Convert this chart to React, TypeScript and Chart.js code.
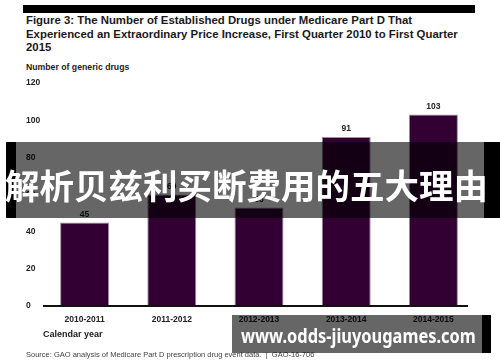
import React, { useEffect, useRef } from "react";
import { Chart, registerables } from "chart.js";

Chart.register(...registerables);

const categories = ["2010-2011", "2011-2012", "2012-2013", "2013-2014", "2014-2015"];
const drugCounts = [45, 60, 53, 91, 103];
const yMin = 0;
const yMax = 120;
const yStep = 20;

const titleLines = [
  "Figure 3: The Number of Established Drugs under Medicare Part D That",
  "Experienced an Extraordinary Price Increase, First Quarter 2010 to First Quarter",
  "2015",
];
const yAxisTitle = "Number of generic drugs";
const xAxisTitle = "Calendar year";
const sourceText = "Source: GAO analysis of Medicare Part D prescription drug event data.  |  GAO-16-706";
const bannerText = "解析贝兹利买断费用的五大理由";
const watermarkText = "www.odds-jiuyougames.com";

const FONT = "'Liberation Sans', Arial, sans-serif";

const overlayPlugin = {
  id: "overlayPlugin",
  afterDatasetsDraw(chart: any) {
    const ctx = chart.ctx;
    const { left, right, bottom } = chart.chartArea;
    ctx.save();
    ctx.strokeStyle = "#111";
    ctx.lineWidth = 2;
    ctx.beginPath();
    ctx.moveTo(left + 2, bottom);
    ctx.lineTo(right - 9, bottom);
    ctx.stroke();

    const meta = chart.getDatasetMeta(0);
    ctx.fillStyle = "#222";
    ctx.font = `bold 8.5px ${FONT}`;
    ctx.textAlign = "center";
    ctx.textBaseline = "middle";
    meta.data.forEach((bar: any, i: number) => {
      ctx.fillText(String(chart.data.datasets[0].data[i]), bar.x, bar.y - 8);
    });
    ctx.restore();
  },
};

export default function App() {
  const canvasRef = useRef<HTMLCanvasElement | null>(null);

  useEffect(() => {
    if (!canvasRef.current) return;
    const chart = new Chart(canvasRef.current, {
      type: "bar",
      data: {
        labels: categories,
        datasets: [
          {
            data: drugCounts,
            backgroundColor: "#330033",
            borderColor: "#9a909a",
            borderWidth: 1,
            borderSkipped: "bottom",
            barPercentage: 0.562,
            categoryPercentage: 1,
          },
        ],
      },
      plugins: [overlayPlugin],
      options: {
        animation: false,
        responsive: false,
        maintainAspectRatio: false,
        layout: { padding: { left: 26, right: 23, top: 83, bottom: 36 } },
        plugins: { legend: { display: false }, tooltip: { enabled: false } },
        scales: {
          x: {
            grid: { display: false, drawTicks: false },
            border: { display: false },
            ticks: {
              font: { family: FONT, size: 8.5, weight: "bold" },
              color: "#222",
              padding: 9,
              maxRotation: 0,
              autoSkip: false,
            },
            afterFit: (s: any) => {
              s.height = 20;
            },
          },
          y: {
            min: yMin,
            max: yMax,
            grid: { display: false, drawTicks: false },
            border: { display: false },
            ticks: {
              stepSize: yStep,
              crossAlign: "far",
              padding: 0,
              font: { family: FONT, size: 8.5, weight: "bold" },
              color: "#222",
            },
            afterFit: (s: any) => {
              s.width = 15;
            },
          },
        },
      },
    } as any);
    return () => chart.destroy();
  }, []);

  const abs = (style: React.CSSProperties): React.CSSProperties => ({ position: "absolute", ...style });

  return (
    <div
      style={{
        position: "absolute",
        left: 0,
        top: 0,
        width: 500,
        height: 362,
        background: "#fff",
        overflow: "hidden",
        fontFamily: FONT,
        color: "#1a1a1a",
      }}
    >
      <div style={abs({ left: 23, top: 5, width: 452, height: 8, background: "#000" })} />
      <div style={abs({ left: 26, top: 14, fontSize: 11.4, lineHeight: "13.5px", fontWeight: "bold", whiteSpace: "nowrap" })}>
        {titleLines.map((l, i) => (
          <div key={i}>{l}</div>
        ))}
      </div>
      <div style={abs({ left: 26, top: 62, fontSize: 8.7, lineHeight: "10px", fontWeight: "bold", color: "#222", whiteSpace: "nowrap" })}>
        {yAxisTitle}
      </div>
      <canvas ref={canvasRef} width={500} height={362} style={abs({ left: 0, top: 0, width: 500, height: 362 })} />
      <div style={abs({ left: 43, top: 329, fontSize: 9, lineHeight: "10px", fontWeight: "bold", color: "#222", whiteSpace: "nowrap" })}>
        {xAxisTitle}
      </div>
      <div style={abs({ left: 26, top: 351, fontSize: 7.5, lineHeight: "8px", color: "#444", whiteSpace: "pre" })}>
        {sourceText}
      </div>

      {/* banner overlay */}
      <div style={abs({ left: 6, top: 142, width: 10, height: 76, background: "#000" })} />
      <div style={abs({ left: 16, top: 142, width: 468, height: 76, background: "rgba(0,0,0,0.6)" })} />
      <div style={abs({ left: 484, top: 142, width: 16, height: 76, background: "#000" })} />
      <div
        style={abs({
          left: 5,
          top: 162,
          fontFamily: "'Noto Sans CJK SC', sans-serif",
          fontWeight: 700,
          fontSize: 34.5,
          lineHeight: "44px",
          color: "#fff",
          whiteSpace: "nowrap",
        })}
      >
        {bannerText}
      </div>

      {/* watermark */}
      <div style={abs({ left: 232, top: 315, width: 250, height: 38, background: "rgba(0,0,0,0.6)" })} />
      <div style={abs({ left: 482, top: 315, width: 9, height: 38, background: "#000" })} />
      <div
        style={abs({
          left: 241,
          top: 322,
          fontFamily: "'Noto Sans', sans-serif",
          fontWeight: 700,
          fontSize: 20,
          lineHeight: "28px",
          color: "#fff",
          whiteSpace: "nowrap",
          transform: "scaleX(0.82)",
          transformOrigin: "left center",
        })}
      >
        {watermarkText}
      </div>
    </div>
  );
}
